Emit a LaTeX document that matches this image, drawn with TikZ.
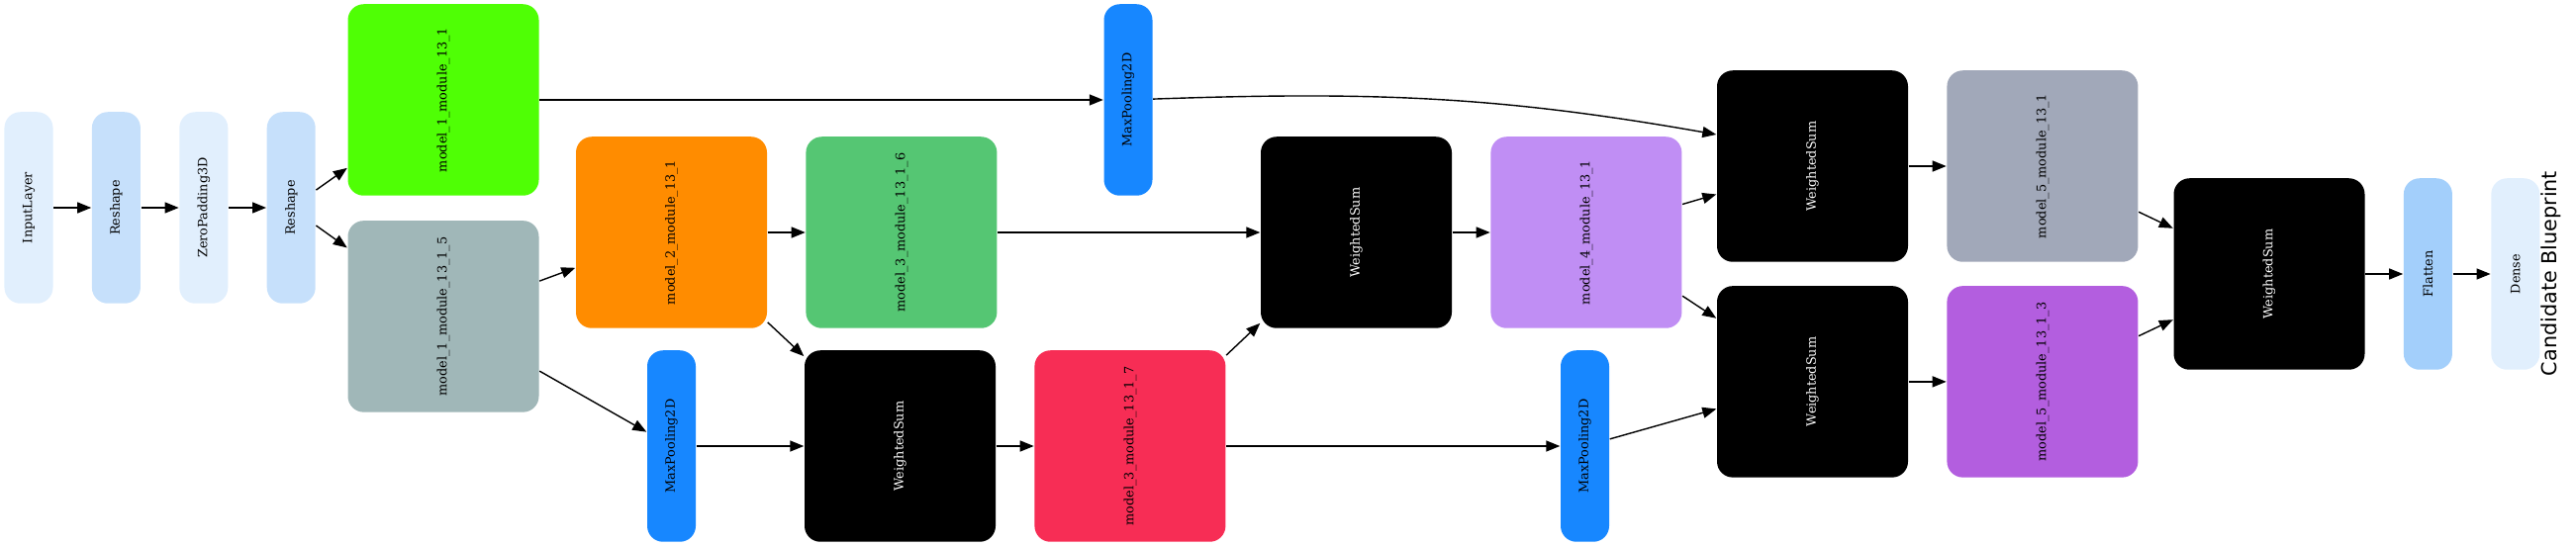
\documentclass[tikz,border=0pt]{standalone}
\usepackage{fontspec}
\usepackage{graphicx}
\usepackage{tikz}
\usetikzlibrary{arrows.meta,positioning}

\newfontfamily\labfont{DejaVu Serif}
\newfontfamily\titlefont{DejaVu Sans}
\newcommand{\vlab}[1]{\rotatebox{90}{#1}}

\definecolor{colInput}{HTML}{E1EFFD}
\definecolor{colReshape}{HTML}{C6E0FB}
\definecolor{colFlat}{HTML}{A3CFFB}
\definecolor{colPool}{HTML}{1787FF}
\definecolor{colLime}{HTML}{4FFF05}
\definecolor{colSlate}{HTML}{A0B7B8}
\definecolor{colOrange}{HTML}{FF8C00}
\definecolor{colMint}{HTML}{55C673}
\definecolor{colRed}{HTML}{F72D55}
\definecolor{colLilac}{HTML}{C08EF4}
\definecolor{colSteel}{HTML}{A1A8B9}
\definecolor{colViolet}{HTML}{B35EDF}

\tikzset{
  modbox/.style={rounded corners=1.6mm, minimum width=1.93cm, minimum height=1.935cm,
    inner sep=0pt, draw=none, font=\labfont\fontsize{3.65}{4.4}\selectfont},
  thinbox/.style={modbox, minimum width=0.49cm},
  wsum/.style={modbox, fill=black, text=white}
}

\begin{document}
\begin{tikzpicture}[node distance=0.38cm, auto]
	\useasboundingbox (0,0) rectangle (26.03,-5.52);
	\node[thinbox, fill=colInput] (input) at (0.29,-2.10) {\vlab{InputLayer}};
	\node[thinbox, fill=colReshape, right=of input] (reshapeA) {\vlab{Reshape}};
	\node[thinbox, fill=colInput, right=of reshapeA] (zeropad) {\vlab{ZeroPadding3D}};
	\node[thinbox, fill=colReshape, right=of zeropad] (reshapeB) {\vlab{Reshape}};
	
	\node[modbox, fill=colLime] (modA) at (4.48,-1.01) {\vlab{model\_1\_module\_13\_1}};
	\node[modbox, fill=colSlate, below=0.24cm of modA] (modAe) {\vlab{model\_1\_module\_13\_1\_5}};
	\node[modbox, fill=colOrange] (modB) at (6.785,-2.35) {\vlab{model\_2\_module\_13\_1}};
	\node[modbox, fill=colMint, right=of modB] (modC) {\vlab{model\_3\_module\_13\_1\_6}};
	\node[thinbox, fill=colPool] (poolB) at (6.785,-4.51) {\vlab{MaxPooling2D}};
	\node[wsum] (wsA) at (9.095,-4.51) {\vlab{WeightedSum}};
	\node[modbox, fill=colRed, right=of wsA] (modE) {\vlab{model\_3\_module\_13\_1\_7}};
	\node[thinbox, fill=colPool] (poolA) at (11.40,-1.01) {\vlab{MaxPooling2D}};
	\node[wsum] (wsB) at (13.705,-2.35) {\vlab{WeightedSum}};
	\node[modbox, fill=colLilac, right=of wsB] (modD) {\vlab{model\_4\_module\_13\_1}};
	\node[thinbox, fill=colPool] (poolC) at (16.015,-4.51) {\vlab{MaxPooling2D}};
	\node[wsum] (wsC) at (18.315,-1.68) {\vlab{WeightedSum}};
	\node[wsum, below=0.23cm of wsC] (wsD) {\vlab{WeightedSum}};
	\node[modbox, fill=colSteel, right=of wsC] (modF) {\vlab{model\_5\_module\_13\_1}};
	\node[modbox, fill=colViolet, right=of wsD] (modG) {\vlab{model\_5\_module\_13\_1\_3}};
	\node[wsum] (wsE) at (22.93,-2.77) {\vlab{WeightedSum}};
	\node[thinbox, fill=colFlat, right=of wsE] (flatten) {\vlab{Flatten}};
	\node[thinbox, fill=colInput, right=of flatten] (dense) {\vlab{Dense}};
	\node[rotate=90, font=\titlefont\fontsize{5.9}{7}\selectfont] (title) at (25.78,-2.765) {Candidate Blueprint};
	
	\path [-{Triangle[length=1.4mm, width=1.1mm]}, line width=0.4pt]
		(input) edge (reshapeA)
		(reshapeA) edge (zeropad)
		(zeropad) edge (reshapeB)
		(reshapeB) edge (modA)
		(reshapeB) edge (modAe)
		(modA) edge (poolA)
		(modAe) edge (modB)
		(modAe) edge (poolB)
		(modB) edge (modC)
		(modB) edge (wsA)
		(poolB) edge (wsA)
		(wsA) edge (modE)
		(modE) edge (wsB)
		(modE) edge (poolC)
		(modC) edge (wsB)
		(wsB) edge (modD)
		(poolA) edge[out=2, in=170] ([yshift=3.2mm]wsC.west)
		(modD) edge (wsC)
		(modD) edge (wsD)
		(poolC) edge (wsD)
		(wsC) edge (modF)
		(wsD) edge (modG)
		(modF) edge (wsE)
		(modG) edge (wsE)
		(wsE) edge (flatten)
		(flatten) edge (dense)
	;
\end{tikzpicture}
\end{document}
